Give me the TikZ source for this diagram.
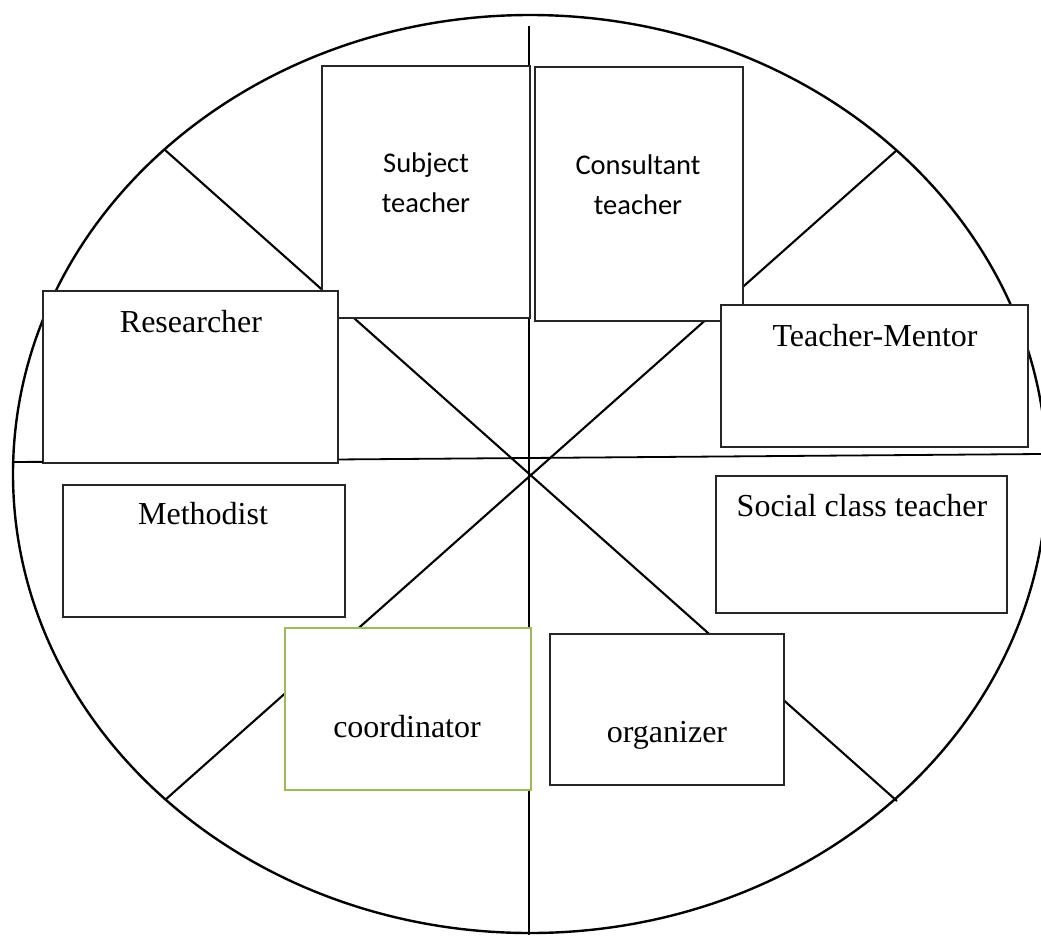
\documentclass[tikz,border=0pt]{standalone}
\usepackage{fontspec}
\setmainfont{Liberation Serif}
\newfontfamily\calibfont{Carlito}
\definecolor{boxgreen}{RGB}{155,187,89}
\begin{document}
\begin{tikzpicture}[x=1pt,y=-1pt,
  box/.style={draw=black!85, line width=1.3pt, fill=white, anchor=north west, inner sep=0pt, outer sep=0pt},
  greenbox/.style={box, draw=boxgreen, line width=2.2pt},
  serif/.style={font=\fontsize{32}{38}\selectfont, anchor=base, inner sep=0pt},
  sans/.style={font=\calibfont\fontsize{28.5}{40}\selectfont, anchor=base, inner sep=0pt},
  rim/.style={line width=2.4pt},
  spoke/.style={line width=2.1pt},
  axis/.style={line width=1.3pt}
]
\useasboundingbox (0,0) rectangle (1041,935);

% outer ellipse
\begin{scope}
  \clip (0,0) rectangle (1041,935);
  \draw[rim] (530,474) ellipse [x radius=517pt, y radius=459pt];
\end{scope}

% end points of the dividing lines
\coordinate (ul) at (165,150);
\coordinate (lr) at (897,801);
\coordinate (ur) at (897,150);
\coordinate (ll) at (165,800);
\coordinate (vt) at (529,26);
\coordinate (vb) at (529,935);
\coordinate (hl) at (13,462);
\coordinate (hr) at (1041,454);

\draw[spoke] (ul) -- (lr);
\draw[spoke] (ur) -- (ll);
\draw[axis] (vt) -- (vb);
\draw[line width=1.8pt] (hl) -- (hr);

% boxes
\node[box, minimum width=208pt, minimum height=252pt] (subj) at (322,66) {};
\node[box, minimum width=208pt, minimum height=254pt] (cons) at (535,67) {};
\node[box, minimum width=295pt, minimum height=172pt] (res) at (43,291) {};
\node[box, minimum width=307pt, minimum height=142pt] (ment) at (721,305) {};
\node[box, minimum width=282pt, minimum height=132pt] (meth) at (63,485) {};
\node[box, minimum width=291pt, minimum height=137pt] (soc) at (716,476) {};
\node[greenbox, minimum width=246pt, minimum height=162pt] (coord) at (285,628) {};
\node[box, minimum width=234pt, minimum height=151pt] (org) at (550,634) {};

\draw[line width=1.8pt] (hl) -- (res.south west |- hl);

% texts
\node[sans] (subj1) at (426,172) {Subject};
\node[sans] (subj2) at (426,212) {teacher};
\node[sans] (cons1) at (638,174) {Consultant};
\node[sans] (cons2) at (638,214) {teacher};
\node[serif] (rest) at (191,332) {Researcher};
\node[serif] (mentt) at (875,346) {Teacher-Mentor};
\node[serif] (metht) at (203,524) {Methodist};
\node[serif] (soct) at (862,516) {Social class teacher};
\node[serif] (coordt) at (407,737) {coordinator};
\node[serif] (orgt) at (667,742) {organizer};
\end{tikzpicture}
\end{document}
